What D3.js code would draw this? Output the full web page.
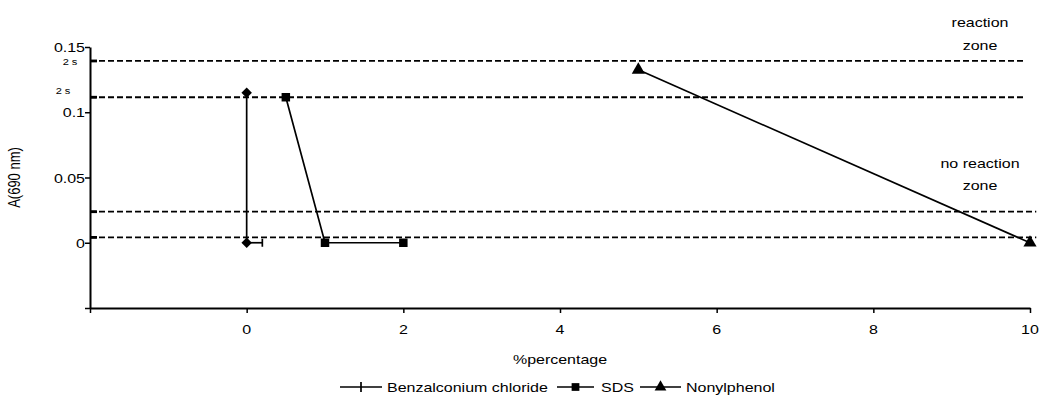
<!DOCTYPE html>
<html>
<head>
<meta charset="utf-8">
<script src="https://cdn.jsdelivr.net/npm/d3@7"></script>
<style>
  html, body { margin: 0; padding: 0; background: #fff; }
  svg text { font-family: "Liberation Sans", Arial, sans-serif; fill: #000; }
</style>
</head>
<body>
<svg id="chart" width="1042" height="399"></svg>
<script>
// Absorbance at 690 nm versus surfactant percentage
const seriesNames = ["Benzalconium chloride", "SDS", "Nonylphenol"];
const benzX = [0, 0];
const benzY = [0.115, 0];
const benzErrX = [0, 0.2];          // horizontal error bar on the last point (from, to)
const sdsX = [0.5, 1, 2];
const sdsY = [0.1115, 0, 0];
const nonylX = [5, 10];
const nonylY = [0.1325, 0];

// Threshold lines: two upper (2 s) lines bound the reaction zone, two lower the no-reaction zone
const thresholds = [0.1393, 0.1115, 0.0238, 0.0041];
const thresholdEnds = [9.93, 9.93, 10.08, 10.08];
const thresholdNotes = ["2 s", "2 s"];

const xTicks = [-2, 0, 2, 4, 6, 8, 10];
const xTickLabels = ["", "0", "2", "4", "6", "8", "10"];
const yTicks = [-0.05, 0, 0.05, 0.1, 0.15];
const yTickLabels = ["", "0", "0.05", "0.1", "0.15"];

const STRETCH = 1.23;   // text is drawn slightly wide
const svg = d3.select("#chart");
const x = d3.scaleLinear().domain([-2, 10]).range([90, 1030]);
const y = d3.scaleLinear().domain([-0.05, 0.15]).range([308, 47]);

// wide text helper: anchor at (px, py)
function wideText(parent, px, py, str, size, anchor) {
  return parent.append("text")
    .attr("transform", `translate(${px},${py}) scale(${STRETCH},1)`)
    .attr("text-anchor", anchor || "start")
    .attr("font-size", size).text(str);
}

// Threshold dashed lines
const thr = svg.append("g");
thresholds.forEach((t, i) => {
  thr.append("line")
    .attr("x1", x(-2)).attr("x2", x(thresholdEnds[i]))
    .attr("y1", y(t)).attr("y2", y(t))
    .attr("stroke", "#000").attr("stroke-width", 1.8)
    .attr("stroke-dasharray", "6,3");
  thr.append("line")
    .attr("x1", x(-2)).attr("x2", x(-2) + 7)
    .attr("y1", y(t)).attr("y2", y(t))
    .attr("stroke", "#000").attr("stroke-width", 2.8);
});
wideText(svg, 70, y(thresholds[0]) + 4, thresholdNotes[0], 9, "middle");
wideText(svg, 63, y(thresholds[1]) - 3, thresholdNotes[1], 9, "middle");

// Zone captions
const zoneX = 980;
wideText(svg, zoneX, 27, "reaction", 13, "middle");
wideText(svg, zoneX, 50, "zone", 13, "middle");
wideText(svg, zoneX, 168, "no reaction", 13, "middle");
wideText(svg, zoneX, 190, "zone", 13, "middle");

// Axes
const xAxis = d3.axisBottom(x).tickValues(xTicks)
  .tickFormat("").tickSize(5).tickSizeOuter(0);
const yAxis = d3.axisLeft(y).tickValues(yTicks)
  .tickFormat("").tickSize(5).tickSizeOuter(0);

const gx = svg.append("g").attr("transform", `translate(0,${y(-0.05)})`).call(xAxis);
const gy = svg.append("g").attr("transform", `translate(${x(-2)},0)`).call(yAxis);
[gx, gy].forEach(g => {
  g.select(".domain").attr("stroke", "#000").attr("stroke-width", 2);
  g.selectAll(".tick line").attr("stroke", "#000").attr("stroke-width", 1.5);
});
xTicks.forEach((t, i) => wideText(svg, x(t), 334, xTickLabels[i], 13, "middle"));
yTicks.forEach((t, i) => wideText(svg, x(-2) - 5, y(t) + 5, yTickLabels[i], 13, "end"));

wideText(svg, 560, 364, "%percentage", 13, "middle");
svg.append("text").attr("transform", `translate(20,${(y(0.15) + y(-0.05)) / 2}) rotate(-90) scale(1,${STRETCH})`)
  .attr("text-anchor", "middle").attr("font-size", 13).text("A(690 nm)");

// Marker shapes
const sym = {
  diamond: d3.symbol().type(d3.symbolDiamond2).size(70),
  square: d3.symbol().type(d3.symbolSquare).size(72),
  triangle: d3.symbol().type(d3.symbolTriangle).size(75)
};
const line = d3.line().x(d => x(d[0])).y(d => y(d[1]));

function drawSeries(xs, ys, shape) {
  const pts = xs.map((v, i) => [v, ys[i]]);
  svg.append("path").attr("d", line(pts)).attr("fill", "none")
    .attr("stroke", "#000").attr("stroke-width", 1.7);
  svg.append("g").selectAll("path").data(pts).join("path")
    .attr("transform", d => `translate(${x(d[0])},${y(d[1])})`)
    .attr("d", sym[shape]).attr("fill", "#000");
}

drawSeries(benzX, benzY, "diamond");
// horizontal error bar with end cap
const by = y(benzY[benzY.length - 1]);
svg.append("line").attr("x1", x(benzErrX[0])).attr("x2", x(benzErrX[1]))
  .attr("y1", by).attr("y2", by).attr("stroke", "#000").attr("stroke-width", 1.7);
svg.append("line").attr("x1", x(benzErrX[1])).attr("x2", x(benzErrX[1]))
  .attr("y1", by - 4).attr("y2", by + 4).attr("stroke", "#000").attr("stroke-width", 1.7);

drawSeries(sdsX, sdsY, "square");
drawSeries(nonylX, nonylY, "triangle");

// Legend
const legend = svg.append("g").attr("transform", "translate(0,387)");
const legendItems = [
  { name: seriesNames[0], x0: 340, x1: 382, tx: 387, shape: "tick" },
  { name: seriesNames[1], x0: 557, x1: 594, tx: 601, shape: "square" },
  { name: seriesNames[2], x0: 640, x1: 681, tx: 686, shape: "triangle" }
];
legendItems.forEach(it => {
  legend.append("line").attr("x1", it.x0).attr("x2", it.x1).attr("y1", 0).attr("y2", 0)
    .attr("stroke", "#000").attr("stroke-width", 1.7);
  const cx = (it.x0 + it.x1) / 2;
  if (it.shape === "tick") {
    legend.append("line").attr("x1", cx).attr("x2", cx).attr("y1", -5).attr("y2", 5)
      .attr("stroke", "#000").attr("stroke-width", 1.7);
  } else {
    legend.append("path").attr("transform", `translate(${cx},0)`)
      .attr("d", d3.symbol().type(it.shape === "square" ? d3.symbolSquare : d3.symbolTriangle).size(60))
      .attr("fill", "#000");
  }
  wideText(legend, it.tx, 5, it.name, 13, "start");
});
</script>
</body>
</html>
